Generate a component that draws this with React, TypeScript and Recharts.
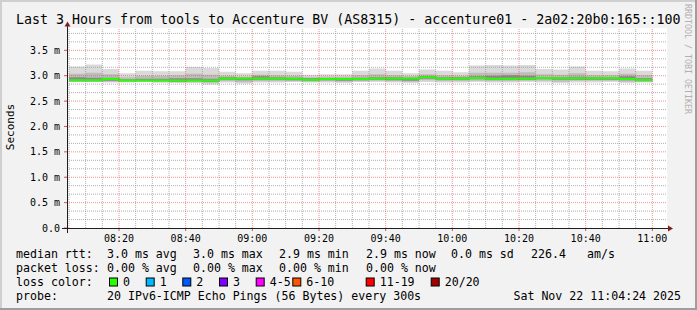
import { ComposedChart, Area, Line, XAxis, YAxis, ReferenceLine } from "recharts";

const W = 697;
const H = 310;
const FONT = "'DejaVu Sans Mono', monospace";

const title = "Last 3 Hours from tools to Accenture BV (AS8315) - accenture01 - 2a02:20b0:165::100";

// window shown on the x axis, and the 5 minute bins (start of each bin)
const windowStart = "08:04:24";
const windowEnd = "11:04:24";
const binStarts = [
  "08:05", "08:10", "08:15", "08:20", "08:25", "08:30", "08:35", "08:40", "08:45",
  "08:50", "08:55", "09:00", "09:05", "09:10", "09:15", "09:20", "09:25", "09:30",
  "09:35", "09:40", "09:45", "09:50", "09:55", "10:00", "10:05", "10:10", "10:15",
  "10:20", "10:25", "10:30", "10:35", "10:40", "10:45", "10:50", "10:55",
];
const binEnd = "11:00";

// values in ms
const medianMs = [
  2.91, 2.91, 2.935, 2.905, 2.905, 2.905, 2.905, 2.905, 2.905,
  2.945, 2.945, 2.945, 2.945, 2.94, 2.92, 2.935, 2.935, 2.935,
  2.945, 2.945, 2.945, 2.97, 2.945, 2.945, 2.955, 2.94, 2.94,
  2.945, 2.955, 2.95, 2.95, 2.95, 2.955, 2.935, 2.915,
];
const smokeMinMs = [
  2.875, 2.875, 2.865, 2.865, 2.875, 2.865, 2.855, 2.855, 2.825,
  2.865, 2.845, 2.865, 2.865, 2.875, 2.865, 2.865, 2.855, 2.875,
  2.875, 2.865, 2.855, 2.875, 2.865, 2.865, 2.875, 2.865, 2.865,
  2.875, 2.865, 2.855, 2.865, 2.865, 2.875, 2.855, 2.865,
];
const smokeMaxMs = [
  3.18, 3.22, 3.13, 3.05, 3.1, 3.09, 3.09, 3.17, 3.15,
  3.08, 3.05, 3.1, 3.1, 3.08, 3.02, 3.03, 3.03, 3.1,
  3.14, 3.1, 3.05, 3.12, 3.1, 3.07, 3.2, 3.21, 3.2,
  3.21, 3.13, 3.12, 3.18, 3.1, 3.09, 3.14, 3.1,
];
const smokeLowMs = [
  2.88, 2.88, 2.88, 2.88, 2.88, 2.87, 2.87, 2.87, 2.86,
  2.89, 2.87, 2.89, 2.89, 2.89, 2.88, 2.89, 2.88, 2.89,
  2.9, 2.89, 2.88, 2.91, 2.89, 2.89, 2.9, 2.89, 2.89,
  2.9, 2.9, 2.88, 2.9, 2.9, 2.9, 2.88, 2.88,
];
const smokeHighMs = [
  3.04, 3.06, 3.03, 2.97, 3.0, 3.0, 3.01, 3.04, 3.02,
  3.0, 2.98, 3.02, 3.01, 3.0, 2.97, 2.98, 2.98, 3.01,
  3.03, 3.01, 2.99, 3.03, 3.01, 3.0, 3.06, 3.06, 3.06,
  3.07, 3.03, 3.02, 3.05, 3.01, 3.01, 3.04, 3.01,
];
const coreLowMs = [
  2.89, 2.89, 2.9, 2.89, 2.89, 2.89, 2.88, 2.89, 2.88,
  2.92, 2.91, 2.92, 2.92, 2.91, 2.9, 2.91, 2.9, 2.91,
  2.92, 2.91, 2.9, 2.94, 2.92, 2.92, 2.93, 2.92, 2.92,
  2.92, 2.93, 2.92, 2.92, 2.92, 2.92, 2.91, 2.89,
];
const coreHighMs = [
  2.97, 2.96, 2.96, 2.93, 2.94, 2.94, 2.95, 2.95, 2.94,
  2.97, 2.96, 2.99, 2.97, 2.96, 2.95, 2.95, 2.95, 2.96,
  2.97, 2.97, 2.96, 2.99, 2.97, 2.97, 2.99, 3.0, 3.01,
  3.0, 2.97, 2.97, 2.98, 2.97, 2.97, 2.99, 2.95,
];

const timeTicks = ["08:20", "08:40", "09:00", "09:20", "09:40", "10:00", "10:20", "10:40", "11:00"];
const yTicksMs = [0, 0.5, 1.0, 1.5, 2.0, 2.5, 3.0, 3.5];
const yMaxMs = 3.94;

// legend texts
const rttLabel = "median rtt:";
const rttStats = ["3.0 ms avg", "3.0 ms max", "2.9 ms min", "2.9 ms now", "0.0 ms sd"];
const rttRate = "226.4";
const rttRateUnit = "am/s";
const lossLabel = "packet loss:";
const lossStats = ["0.00 % avg", "0.00 % max", "0.00 % min", "0.00 % now"];
const lossColorLabel = "loss color:";
const lossBuckets = ["0", "1", "2", "3", "4-5", "6-10", "11-19", "20/20"];
const lossColors = ["#26ff00", "#00b8ff", "#0059ff", "#7e00ff", "#ff00ff", "#ff5500", "#ff0000", "#a10000"];
const probeLabel = "probe:";
const probeText = "20 IPv6-ICMP Echo Pings (56 Bytes) every 300s";
const stamp = "Sat Nov 22 11:04:24 2025";

const toMinutes = (hhmm: string) => {
  const [h, m, s = "0"] = hhmm.split(":");
  return (Number(h) - 8) * 60 + Number(m) + Number(s) / 60;
};

const rows = binStarts.map((start, i) => ({
  t: toMinutes(start),
  median: medianMs[i],
  outer: [smokeMinMs[i], smokeMaxMs[i]],
  mid: [smokeLowMs[i], smokeHighMs[i]],
  core: [coreLowMs[i], coreHighMs[i]],
}));
// close the last step at the end of the last bin
rows.push({ ...rows[rows.length - 1], t: toMinutes(binEnd) });

const tickMinutes = timeTicks.map(toMinutes);

// grid: minor every 5 min / every 1/6 of a major y step
const minorX: number[] = [];
for (let m = 5; m <= toMinutes(windowEnd); m += 5) if (m % 20 !== 0) minorX.push(m);
const minorY: number[] = [];
for (let k = 1; k / 6 < yMaxMs; k++) if (k % 3 !== 0) minorY.push(k / 6);

const GRID = "rgba(143,143,143,0.7)";
const MGRID = "rgba(222,79,79,0.6)";

const PLOT = { left: 67, top: 28, right: 667, bottom: 228 };

const XTick = (props: any) => (
  <text x={props.x} y={props.y + 8.5} textAnchor="middle" fontFamily={FONT} fontSize={10} fill="#000">
    {timeTicks[tickMinutes.indexOf(props.payload.value)] ?? ""}
  </text>
);

const YTick = (props: any) => {
  const v = props.payload.value;
  return (
    <text x={props.x - 2} y={props.y + 3.5} textAnchor="end" fontFamily={FONT} fontSize={10} fill="#000">
      {v === 0 ? "0.0" : `${v.toFixed(1)} m`}
    </text>
  );
};

const COLS = [107, 193, 279, 366, 451];
const SWATCH_X = [109, 145.7, 182.3, 219, 255.7, 292.3, 365.7, 430.7];
const LINE_Y = [258.3, 272.3, 286.3, 300.3];

export default function App() {
  return (
    <div style={{ position: "absolute", left: 0, top: 0, width: W, height: H, background: "#f2f2f2" }}>
      <svg width={W} height={H} style={{ position: "absolute", left: 0, top: 0 }}>
        <rect x={PLOT.left} y={PLOT.top} width={PLOT.right - PLOT.left} height={PLOT.bottom - PLOT.top} fill="#fff" />
      </svg>
      <div style={{ position: "absolute", left: 0, top: 0 }}>
        <ComposedChart width={W} height={H} data={rows} margin={{ top: 28, right: 30, bottom: 62, left: 0 }}>
          <XAxis
            type="number"
            dataKey="t"
            domain={[toMinutes(windowStart), toMinutes(windowEnd)]}
            allowDataOverflow
            ticks={tickMinutes}
            interval={0}
            tick={XTick}
            tickSize={3}
            tickLine={{ stroke: "#de4f4f" }}
            axisLine={false}
            height={20}
          />
          <YAxis
            type="number"
            domain={[0, yMaxMs]}
            allowDataOverflow
            ticks={yTicksMs}
            interval={0}
            width={67}
            tick={YTick}
            tickSize={3}
            tickLine={{ stroke: "#de4f4f" }}
            axisLine={false}
          />
          <Area type="stepAfter" dataKey="outer" fill="#dadada" fillOpacity={1} stroke="none" isAnimationActive={false} />
          <Area type="stepAfter" dataKey="mid" fill="#bdbdbd" fillOpacity={1} stroke="none" isAnimationActive={false} />
          <Area type="stepAfter" dataKey="core" fill="#8a8a8a" fillOpacity={1} stroke="none" isAnimationActive={false} />
          <Line type="stepAfter" dataKey="median" stroke="#26ff00" strokeWidth={2} dot={false} isAnimationActive={false} />
          {minorX.map((v) => (
            <ReferenceLine key={`mx${v}`} x={v} stroke={GRID} strokeDasharray="1 1" />
          ))}
          {minorY.map((v) => (
            <ReferenceLine key={`my${v}`} y={v} stroke={GRID} strokeDasharray="1 1" />
          ))}
          {tickMinutes.map((v) => (
            <ReferenceLine key={`Mx${v}`} x={v} stroke={MGRID} strokeDasharray="1 1" />
          ))}
          {yTicksMs.filter((v) => v > 0).map((v) => (
            <ReferenceLine key={`My${v}`} y={v} stroke={MGRID} strokeDasharray="1 1" />
          ))}
        </ComposedChart>
      </div>
      <svg width={W} height={H} style={{ position: "absolute", left: 0, top: 0, pointerEvents: "none" }} fontFamily={FONT}>
        {/* frame */}
        <line x1={0} y1={1} x2={W} y2={1} stroke="#cfcfcf" strokeWidth={2} />
        <line x1={1} y1={0} x2={1} y2={H} stroke="#cfcfcf" strokeWidth={2} />
        <line x1={0} y1={H - 1} x2={W} y2={H - 1} stroke="#9e9e9e" strokeWidth={2} />
        <line x1={W - 1} y1={0} x2={W - 1} y2={H} stroke="#9e9e9e" strokeWidth={2} />

        {/* axes with arrows */}
        <line x1={62} y1={228.5} x2={668} y2={228.5} stroke="#1f1f1f" />
        <polygon points="668,225.5 673,228.5 668,231.5" fill="#801f1f" />
        <line x1={67.5} y1={233} x2={67.5} y2={26} stroke="#1f1f1f" />
        <polygon points="64.5,26.5 67.5,21.5 70.5,26.5" fill="#801f1f" />

        <text x={16} y={23.5} fontSize={13.3} fill="#000">{title}</text>
        <text transform="translate(14,127) rotate(-90)" textAnchor="middle" fontSize={11} fill="#000">Seconds</text>
        <text transform="translate(685,4) rotate(90)" fontSize={8.3} fill="#b0b0b0">RRDTOOL / TOBI OETIKER</text>

        <g fontSize={11.6} fill="#000" style={{ whiteSpace: "pre" }}>
          <text x={16} y={LINE_Y[0]}>{rttLabel}</text>
          {rttStats.map((s, i) => (
            <text key={s + i} x={COLS[i]} y={LINE_Y[0]}>{s}</text>
          ))}
          <text x={531} y={LINE_Y[0]}>{rttRate}</text>
          <text x={587} y={LINE_Y[0]}>{rttRateUnit}</text>

          <text x={16} y={LINE_Y[1]}>{lossLabel}</text>
          {lossStats.map((s, i) => (
            <text key={s + i} x={COLS[i]} y={LINE_Y[1]}>{s}</text>
          ))}

          <text x={16} y={LINE_Y[2]}>{lossColorLabel}</text>
          {lossBuckets.map((b, i) => (
            <g key={b}>
              <rect x={SWATCH_X[i] + 0.5} y={278} width={8} height={8} fill={lossColors[i]} stroke="#000" />
              <text x={SWATCH_X[i] + 14} y={LINE_Y[2]}>{b}</text>
            </g>
          ))}

          <text x={16} y={LINE_Y[3]}>{probeLabel}</text>
          <text x={COLS[0]} y={LINE_Y[3]}>{probeText}</text>
          <text x={681} y={LINE_Y[3]} textAnchor="end">{stamp}</text>
        </g>
      </svg>
    </div>
  );
}
